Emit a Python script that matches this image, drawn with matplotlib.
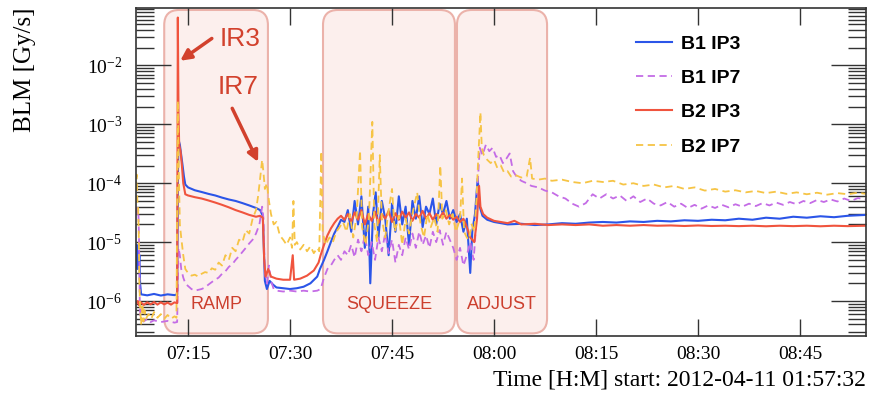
import numpy as np
import matplotlib
matplotlib.use('Agg')
import matplotlib.pyplot as plt
from matplotlib.patches import FancyBboxPatch
from matplotlib.ticker import LogLocator, FuncFormatter, NullLocator

plt.rcParams['font.family'] = ['Liberation Serif', 'DejaVu Serif']
plt.rcParams['mathtext.fontset'] = 'custom'
plt.rcParams['mathtext.rm'] = 'Liberation Serif'

# time axis: minutes after 07:00
xtick_pos = [15, 30, 45, 60, 75, 90, 105]
xtick_labels = ['07:15', '07:30', '07:45', '08:00', '08:15', '08:30', '08:45']

# machine phases (start, end in minutes after 07:00)
phase_names = ['RAMP', 'SQUEEZE', 'ADJUST']
phase_start = [11.5, 34.85, 54.55]
phase_end = [26.75, 54.25, 67.8]

# BLM signals [Gy/s], (minute, value)
b1_ip3 = [
    (7.35, 5e-6), (7.45, 9e-6), (7.55, 3.5e-6), (7.65, 7e-6), (7.75, 4e-6), (7.85, 6e-6),
    (7.95, 2e-6), (8.1, 1.3e-6), (9, 1.25e-6), (10, 1.32e-6), (11, 1.24e-6), (12, 1.3e-6),
    (13, 1.26e-6), (13.4, 1.3e-6), (13.5, 1.0e-4), (13.6, 5.5e-4), (13.8, 4.5e-4), (14.0, 3.0e-4),
    (14.2, 2.0e-4), (14.4, 1.3e-4), (14.6, 9.5e-5), (15, 8.5e-5), (16, 7.6e-5), (17, 7.1e-5),
    (18, 6.6e-5), (19, 6.2e-5), (20, 5.7e-5), (21, 5.3e-5), (22, 5.0e-5), (23, 4.6e-5),
    (24, 4.2e-5), (25, 3.8e-5), (25.6, 3.5e-5), (26.0, 2.8e-5), (26.3, 2.2e-6), (26.6, 1.6e-6),
    (27.0, 2.2e-6), (27.5, 1.9e-6), (28, 1.7e-6), (29, 1.65e-6), (30, 1.6e-6), (31, 1.65e-6),
    (32, 1.75e-6), (33, 2.0e-6), (34, 2.6e-6), (34.4, 3.5e-6), (35, 5e-6), (35.5, 7e-6),
    (36, 1.0e-5), (36.5, 1.4e-5), (37, 1.8e-5), (37.5, 2.4e-5), (38, 2.2e-5), (38.5, 3.5e-5),
    (39, 1.5e-5), (39.5, 5e-5), (40, 2e-5), (40.5, 6e-5), (41, 8e-6), (41.5, 4e-5),
    (41.8, 2e-6), (42.2, 3e-5), (42.6, 7e-5), (43, 1.2e-5), (43.5, 5e-5), (44, 2.5e-5),
    (44.5, 6e-6), (45, 4.5e-5), (45.5, 1.5e-5), (46, 6e-5), (46.5, 2e-5), (47, 4e-5),
    (47.5, 9e-6), (48, 5e-5), (48.5, 2.5e-5), (49, 6e-5), (49.5, 1.8e-5), (50, 4e-5),
    (50.5, 3e-5), (51, 5.5e-5), (51.5, 2e-5), (52, 4.5e-5), (52.5, 3e-5), (53, 5e-5),
    (53.5, 2.5e-5), (54, 3.5e-5), (54.5, 2.2e-5), (55, 3e-5), (55.5, 1.5e-5), (56, 2.5e-5),
    (56.5, 3e-6), (56.8, 1.5e-5), (57.2, 3e-5), (57.6, 1.2e-4), (57.9, 4e-5), (58.3, 2.8e-5),
    (59, 2.4e-5), (60, 2.2e-5), (61, 2.1e-5), (62, 2.0e-5), (64, 2.05e-5), (66, 1.95e-5),
    (68, 2.0e-5), (70, 2.1e-5), (72, 2.05e-5), (74, 2.15e-5), (76, 2.2e-5), (78, 2.15e-5),
    (80, 2.25e-5), (82, 2.2e-5), (84, 2.3e-5), (86, 2.25e-5), (88, 2.35e-5), (90, 2.3e-5),
    (92, 2.4e-5), (94, 2.35e-5), (96, 2.5e-5), (98, 2.4e-5), (100, 2.6e-5), (102, 2.5e-5),
    (104, 2.7e-5), (106, 2.6e-5), (108, 2.75e-5), (110, 2.65e-5), (112, 2.8e-5), (114.7, 2.9e-5),
]

b1_ip7 = [
    (7.35, 3e-5), (7.5, 4e-5), (7.6, 3e-5), (7.7, 3.5e-5), (7.8, 1e-5), (7.9, 1e-6),
    (8.0, 4.8e-7), (8.5, 4.5e-7), (9, 5e-7), (9.5, 4.4e-7), (10, 4.7e-7), (11, 4.4e-7),
    (12, 4.6e-7), (13, 4.3e-7), (13.4, 4.4e-7), (13.6, 8e-6), (13.8, 6e-6), (14.0, 3.5e-6),
    (14.3, 2.5e-6), (14.6, 2e-6), (15, 1.8e-6), (15.5, 1.6e-6), (16, 1.5e-6), (16.5, 1.55e-6),
    (17, 1.6e-6), (17.5, 1.7e-6), (18, 1.9e-6), (18.5, 2.1e-6), (19, 2.3e-6), (19.5, 2.5e-6),
    (20, 2.9e-6), (20.5, 3.2e-6), (21, 3.8e-6), (21.5, 4.2e-6), (22, 5e-6), (22.5, 5.8e-6),
    (23, 6.8e-6), (23.5, 8e-6), (24, 9.5e-6), (24.5, 1.1e-5), (25, 1.4e-5), (25.5, 2.0e-5),
    (25.9, 4e-5), (26.1, 2.5e-5), (26.3, 3e-6), (26.6, 2e-6), (26.9, 4e-6), (27.2, 2.2e-6),
    (27.6, 1.6e-6), (28, 1.5e-6), (29, 1.45e-6), (30, 1.5e-6), (31, 1.45e-6), (32, 1.5e-6),
    (33, 1.45e-6), (34, 1.5e-6), (34.5, 1.6e-6), (35, 2.5e-6), (35.5, 3.5e-6), (36, 4e-6),
    (36.5, 5e-6), (37, 6e-6), (37.5, 5e-6), (38, 7e-6), (38.5, 6e-6), (39, 9e-6),
    (39.5, 5.5e-6), (40, 1.1e-5), (40.5, 7e-6), (41, 1.3e-5), (41.5, 6e-6), (42, 1e-5),
    (42.5, 5e-6), (43, 1.2e-5), (43.5, 7e-6), (44, 1.4e-5), (44.5, 6.5e-6), (45, 1.1e-5),
    (45.5, 4.5e-6), (46, 9e-6), (46.5, 6e-6), (47, 1.2e-5), (47.5, 7.5e-6), (48, 1.4e-5),
    (48.5, 8e-6), (49, 1.5e-5), (49.5, 9e-6), (50, 1.3e-5), (50.5, 8e-6), (51, 1.5e-5),
    (51.5, 1e-5), (52, 1.6e-5), (52.5, 9e-6), (53, 1.5e-5), (53.5, 1.1e-5), (54, 8e-6),
    (54.5, 5e-6), (55, 8e-6), (55.5, 4e-6), (56, 6e-6), (56.5, 1e-5), (57, 5e-6),
    (57.3, 1.5e-5), (57.6, 1e-4), (57.9, 4e-4), (58.3, 3e-4), (58.8, 4.5e-4), (59.3, 3.5e-4),
    (59.8, 4e-4), (60.3, 2.8e-4), (60.8, 3e-4), (61.3, 2.2e-4), (61.8, 2.6e-4), (62.3, 3.2e-4),
    (62.8, 1.6e-4), (63.3, 1.3e-4), (64, 1.1e-4), (64.8, 1.0e-4), (65.5, 9e-5), (66.5, 8.5e-5),
    (67.5, 7.5e-5), (68.5, 7e-5), (69.5, 6e-5), (70.5, 5.5e-5), (71.5, 4.5e-5), (72.5, 4e-5),
    (73.5, 4.6e-5), (74.5, 6.5e-5), (75.5, 5.5e-5), (76.5, 6.5e-5), (77.5, 5.5e-5), (78.5, 6.2e-5),
    (79.5, 5e-5), (80.5, 6e-5), (81.5, 4.8e-5), (82.5, 5.5e-5), (83.5, 4.5e-5), (84.5, 4.2e-5),
    (85.5, 4.8e-5), (86.5, 4e-5), (87.5, 4.5e-5), (88.5, 3.8e-5), (89.5, 4.3e-5), (90.5, 3.7e-5),
    (91.5, 4.2e-5), (92.5, 3.8e-5), (93.5, 4.3e-5), (94.5, 3.9e-5), (95.5, 4.4e-5), (96.5, 4e-5),
    (97.5, 4.5e-5), (98.5, 4.1e-5), (99.5, 4.6e-5), (100.5, 4.2e-5), (101.5, 4.7e-5), (102.5, 4.3e-5),
    (103.5, 4.8e-5), (104.5, 4.4e-5), (105.5, 5e-5), (106.5, 4.6e-5), (107.5, 5.2e-5), (108.5, 4.8e-5),
    (109.5, 5.3e-5), (110.5, 4.9e-5), (111.5, 5.5e-5), (112.5, 5e-5), (113.5, 5.6e-5), (114.7, 5.3e-5),
]

b2_ip3 = [
    (7.35, 9e-7), (7.6, 1.0e-6), (7.8, 8.5e-7), (8.0, 9.6e-7), (8.5, 8.6e-7), (9, 9.5e-7),
    (9.5, 8.8e-7), (10, 9.6e-7), (10.5, 8.7e-7), (11, 9.5e-7), (11.5, 8.8e-7), (12, 9.4e-7),
    (12.5, 8.7e-7), (13, 9.5e-7), (13.4, 9.2e-7), (13.5, 6.5e-2), (13.6, 1.5e-3), (13.7, 4.5e-4),
    (13.9, 3.5e-4), (14.1, 2.0e-4), (14.3, 1.0e-4), (14.6, 6.5e-5), (15, 6.2e-5), (16, 5.8e-5),
    (17, 5.5e-5), (18, 5.1e-5), (19, 4.7e-5), (20, 4.3e-5), (21, 3.9e-5), (22, 3.5e-5),
    (23, 3.2e-5), (24, 2.9e-5), (25, 2.7e-5), (25.6, 2.8e-5), (26.0, 2.6e-5), (26.2, 5e-6),
    (26.4, 2.6e-6), (26.8, 3.5e-6), (27.2, 2.6e-6), (28, 2.4e-6), (29, 2.3e-6), (30, 2.3e-6),
    (30.4, 6e-6), (30.6, 2.3e-6), (31.5, 2.4e-6), (32.5, 2.7e-6), (33.5, 3.3e-6), (34.2, 4.5e-6),
    (34.5, 6e-6), (35, 9e-6), (35.5, 1.3e-5), (36, 1.7e-5), (36.5, 2.1e-5), (37, 2.5e-5),
    (37.5, 2.8e-5), (38, 2.4e-5), (38.5, 3e-5), (39, 2.2e-5), (39.5, 3.2e-5), (40, 2.4e-5),
    (40.5, 3.5e-5), (41, 2e-5), (41.5, 3e-5), (42, 2.3e-5), (42.5, 3.3e-5), (43, 2.1e-5),
    (43.5, 3e-5), (44, 2.5e-5), (44.5, 3.4e-5), (45, 2.2e-5), (45.5, 3.1e-5), (46, 2.4e-5),
    (46.5, 3.3e-5), (47, 2.6e-5), (47.5, 3.2e-5), (48, 2.3e-5), (48.5, 3e-5), (49, 2.6e-5),
    (49.5, 3.4e-5), (50, 2.5e-5), (50.5, 3.1e-5), (51, 2.4e-5), (51.5, 3e-5), (52, 2.6e-5),
    (52.5, 3.2e-5), (53, 2.5e-5), (53.5, 2.9e-5), (54, 2.4e-5), (54.5, 2.7e-5), (55, 2.2e-5),
    (55.5, 2.5e-5), (56, 1.8e-5), (56.5, 1.2e-5), (57.1, 1.0e-5), (57.5, 2.5e-5), (57.8, 9e-5),
    (58.0, 4e-5), (58.4, 3e-5), (59, 2.6e-5), (60, 2.3e-5), (61, 2.2e-5), (62, 2.1e-5),
    (63, 2.3e-5), (64, 2.0e-5), (66, 2.05e-5), (68, 1.95e-5), (70, 2.0e-5), (72, 1.95e-5),
    (74, 2.0e-5), (76, 1.9e-5), (78, 1.95e-5), (80, 1.9e-5), (82, 1.95e-5), (84, 1.9e-5),
    (86, 1.92e-5), (88, 1.88e-5), (90, 1.92e-5), (92, 1.88e-5), (94, 1.9e-5), (96, 1.87e-5),
    (98, 1.9e-5), (100, 1.86e-5), (102, 1.9e-5), (104, 1.87e-5), (106, 1.9e-5), (108, 1.86e-5),
    (110, 1.9e-5), (112, 1.87e-5), (114.7, 1.9e-5),
]

b2_ip7 = [
    (7.35, 8e-5), (7.45, 1.4e-4), (7.55, 5e-5), (7.65, 4e-5), (7.75, 1.5e-5), (7.85, 2e-6),
    (7.95, 8e-7), (8.1, 4e-7), (8.3, 9e-7), (8.45, 4.5e-7), (8.6, 7e-7), (8.8, 5e-7),
    (9.2, 6e-7), (9.6, 5e-7), (10, 6.5e-7), (10.5, 5.2e-7), (11, 6e-7), (11.5, 5e-7),
    (12, 5.8e-7), (12.5, 5e-7), (13, 5.5e-7), (13.3, 5.2e-7), (13.5, 2.5e-3), (13.65, 1.5e-4),
    (13.8, 2e-5), (14.0, 1.2e-5), (14.3, 6e-6), (14.6, 3.5e-6), (15, 3e-6), (15.5, 2.7e-6),
    (16, 2.8e-6), (16.5, 2.6e-6), (17, 2.9e-6), (17.5, 3.1e-6), (18, 3e-6), (18.5, 3.6e-6),
    (19, 3.4e-6), (19.5, 4.5e-6), (20, 4e-6), (20.5, 6e-6), (21, 5e-6), (21.5, 8e-6),
    (22, 7e-6), (22.5, 1.1e-5), (23, 1e-5), (23.5, 1.6e-5), (24, 1.4e-5), (24.5, 2.5e-5),
    (25, 3.5e-5), (25.3, 6e-5), (25.6, 1.2e-4), (25.9, 2.5e-4), (26.1, 1.5e-4), (26.3, 8e-5),
    (26.6, 1e-4), (26.9, 5e-5), (27.2, 3e-5), (27.6, 2e-5), (28, 2.2e-5), (28.5, 1.3e-5),
    (29, 1.1e-5), (29.5, 9e-6), (30, 1.2e-5), (30.3, 8e-6), (30.5, 5e-5), (30.7, 9e-6),
    (31, 1.0e-5), (31.5, 7.5e-6), (32, 9e-6), (32.5, 7e-6), (33, 8.5e-6), (33.5, 6.5e-6),
    (34, 8e-6), (34.3, 7e-6), (34.6, 3.5e-4), (34.8, 1.5e-5), (35.2, 9e-6), (35.8, 1.2e-5),
    (36.3, 1.0e-5), (36.8, 1.5e-5), (37.3, 1.8e-5), (37.8, 2.2e-5), (38.3, 1.5e-5), (38.8, 3e-5),
    (39.3, 1.2e-5), (39.8, 2.8e-5), (40.3, 3.6e-4), (40.6, 1.8e-5), (41.1, 9e-6), (41.6, 2.5e-5),
    (42.1, 1.1e-3), (42.4, 2e-5), (42.8, 1e-5), (43.2, 3e-4), (43.5, 2.5e-5), (44, 1.2e-5),
    (44.5, 3.5e-5), (45, 8e-5), (45.4, 1.5e-5), (46, 2.8e-5), (46.5, 9e-6), (47, 2.5e-5),
    (47.5, 1.4e-5), (48, 3e-5), (48.7, 7e-5), (49.2, 2e-5), (49.7, 1.2e-5), (50.2, 3e-5),
    (50.7, 1.8e-5), (51.2, 2.6e-5), (51.7, 1.5e-5), (52.1, 2e-4), (52.4, 2.5e-5), (52.9, 3.5e-5),
    (53.4, 2e-5), (53.9, 3e-5), (54.4, 1.5e-5), (55, 2.5e-5), (55.3, 1.2e-4), (55.6, 1.5e-5),
    (56.0, 1.2e-5), (56.3, 1.1e-5), (56.7, 2e-5), (57.1, 1.5e-5), (57.4, 5e-5), (57.7, 3e-4),
    (58.0, 1.6e-3), (58.2, 4e-4), (58.5, 3e-4), (59, 2.5e-4), (59.5, 2.2e-4), (60, 2.5e-4),
    (60.5, 1.8e-4), (61, 2e-4), (61.5, 1.5e-4), (62, 1.6e-4), (62.5, 1.3e-4), (63, 1.4e-4),
    (64, 1.25e-4), (64.8, 1.3e-4), (65.3, 2.7e-4), (65.6, 1.2e-4), (66.5, 1.15e-4), (67.5, 1.2e-4),
    (68.5, 1.1e-4), (70, 1.15e-4), (71.5, 1.05e-4), (73, 1.0e-4), (74.5, 1.1e-4), (76, 1.05e-4),
    (77.5, 1.1e-4), (79, 9.5e-5), (80.5, 1.0e-4), (82, 9e-5), (83.5, 9.5e-5), (85, 8.5e-5),
    (86.5, 9e-5), (88, 8e-5), (89.5, 8.5e-5), (91, 7.5e-5), (92.5, 8e-5), (94, 7.2e-5),
    (95.5, 7.6e-5), (97, 7e-5), (98.5, 7.4e-5), (100, 6.8e-5), (101.5, 7.2e-5), (103, 6.6e-5),
    (104.5, 7e-5), (106, 6.5e-5), (107.5, 6.9e-5), (109, 6.4e-5), (110.5, 6.8e-5), (112, 6.5e-5),
    (113.5, 6.9e-5), (114.7, 6.6e-5),
]

series = [
    ('B1 IP3', b1_ip3, '#2b55e8', '-', 1.5),
    ('B1 IP7', b1_ip7, '#c46ce6', (0, (4, 2.5)), 1.3),
    ('B2 IP3', b2_ip3, '#f0543e', '-', 1.5),
    ('B2 IP7', b2_ip7, '#f6c445', (0, (4, 2.5)), 1.3),
]

fig = plt.figure(figsize=(8.7, 3.95), dpi=100)
ax = fig.add_axes([136 / 870, 1 - 336 / 395, 730 / 870, 328 / 395])

# phase boxes
xform = ax.get_xaxis_transform()
for name, s, e in zip(phase_names, phase_start, phase_end):
    box = FancyBboxPatch((s, 0.008), e - s, 0.986,
                         boxstyle='round,pad=0,rounding_size=2.2', mutation_aspect=0.0208,
                         transform=xform, facecolor='#fcefed', edgecolor='#ebb2aa',
                         lw=1.5, zorder=0.5)
    ax.add_patch(box)
    ax.text((s + e) / 2, 0.095, name, transform=xform, ha='center', va='center',
            color='#cc3f2e', fontsize=13, family=['Liberation Sans'])

for label, pts, col, ls, lw in series:
    t, v = zip(*pts)
    ax.plot(t, v, color=col, ls=ls, lw=lw, label=label)

ax.set_yscale('log')
ax.set_xlim(7.35, 114.7)
ax.set_ylim(2.55e-7, 0.0944)

# ticks, ROOT style
ax.set_xticks(xtick_pos)
ax.set_xticklabels(xtick_labels)
ax.xaxis.set_minor_locator(NullLocator())
ax.yaxis.set_major_locator(LogLocator(base=10, numticks=20))
ax.yaxis.set_minor_locator(LogLocator(base=10, subs=np.arange(2, 10), numticks=20))
ax.yaxis.set_major_formatter(FuncFormatter(
    lambda v, p: '$\\mathregular{10^{%d}}$' % int(round(np.log10(v)))))
ax.tick_params(which='both', direction='in', top=True, right=True, color='#333333', width=1)
ax.tick_params(axis='x', which='major', length=12, labelsize=14, pad=7)
ax.tick_params(axis='y', which='major', length=25, labelsize=14, pad=10)
ax.tick_params(axis='y', which='minor', length=13)
for sp in ax.spines.values():
    sp.set_linewidth(1.2)
    sp.set_color('#333333')

# IR3 / IR7 arrows
red = '#d2412d'
ax.annotate('', xy=(13.85, 1.2e-2), xytext=(18.5, 2.87e-2),
            arrowprops=dict(arrowstyle='-|>', lw=2.5, color=red, mutation_scale=16,
                            shrinkA=0, shrinkB=0))
ax.annotate('', xy=(25.3, 2.3e-4), xytext=(21.5, 1.87e-3),
            arrowprops=dict(arrowstyle='-|>', lw=2.5, color=red, mutation_scale=16,
                            shrinkA=0, shrinkB=0))
ax.text(22.65, 2.76e-2, 'IR3', color=red, fontsize=19, ha='center', va='center',
        family=['Liberation Sans'])
ax.text(22.35, 4.24e-3, 'IR7', color=red, fontsize=19, ha='center', va='center',
        family=['Liberation Sans'])

leg = ax.legend(loc='upper left', bbox_to_anchor=(636 / 870, 1 - 35 / 395),
                bbox_transform=fig.transFigure, frameon=False, borderpad=0,
                borderaxespad=0, handlelength=1.85, handletextpad=0.45, labelspacing=0.86,
                prop={'family': 'Liberation Sans', 'weight': 'bold', 'size': 14})

fig.text(25 / 870, 1 - 70 / 395, 'BLM [Gy/s]', rotation=90, ha='center', va='center',
         fontsize=18)
fig.text(866 / 870, 1 - 380 / 395, 'Time [H:M] start: 2012-04-11 01:57:32', ha='right',
         va='center', fontsize=17)

fig.savefig('out.png', dpi=100)
